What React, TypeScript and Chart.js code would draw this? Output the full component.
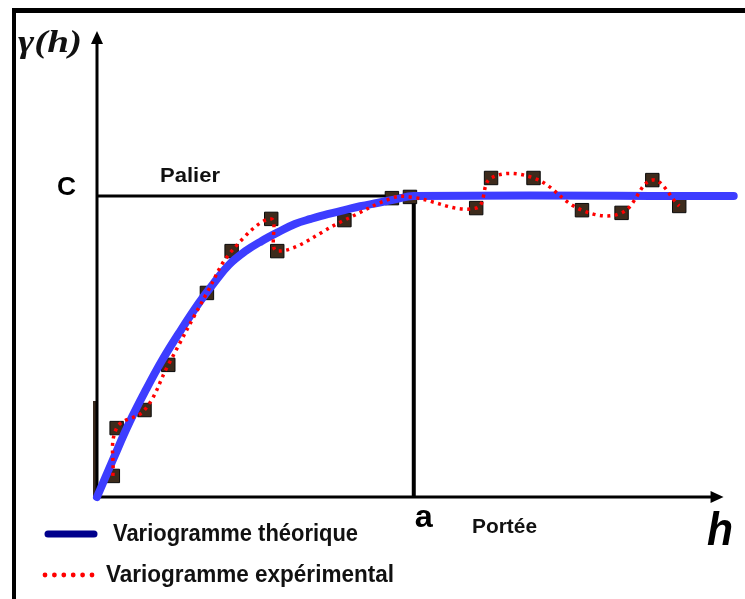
import React, { useEffect, useRef } from 'react';
import { Chart, registerables } from 'chart.js';
Chart.register(...registerables);

// Portée (a) and palier (C)
const rangeA = 10;
const sillC = 1;
const hAxisMax = 20.125;
const gammaAxisMax = 1.545;
const hArrowEnd = 19.78;

// Theoretical variogram
const theoH = [0, 0.5, 1.03, 1.56, 2.06, 2.59, 3.22, 3.69, 4.16, 4.69, 5.19, 5.72, 6.25, 6.75, 7.28, 7.81, 8.31, 8.84, 9.38, 10, 20.1];
const theoGamma = [0, 0.123, 0.249, 0.359, 0.455, 0.545, 0.645, 0.711, 0.771, 0.817, 0.85, 0.88, 0.907, 0.924, 0.94, 0.953, 0.966, 0.977, 0.988, 1, 1];

const expH = [0.5, 0.62, 1.5, 2.25, 3.47, 4.25, 5.5, 5.69, 7.81, 9.31, 9.88, 11.97, 12.44, 13.78, 15.31, 16.56, 17.53, 18.38];
const expGamma = [0.07, 0.229, 0.289, 0.439, 0.678, 0.817, 0.924, 0.817, 0.92, 0.993, 0.997, 0.96, 1.06, 1.06, 0.953, 0.944, 1.053, 0.967];

const labelGamma = 'γ(h)';
const labelC = 'C';
const labelPalier = 'Palier';
const labelA = 'a';
const labelPortee = 'Portée';
const labelH = 'h';
const legendTheo = 'Variogramme théorique';
const legendExp = 'Variogramme expérimental';

function fitText(ctx: CanvasRenderingContext2D, text: string, x: number, y: number, font: string, targetW: number, color = '#000') {
  ctx.save();
  ctx.font = font;
  ctx.fillStyle = color;
  ctx.textBaseline = 'alphabetic';
  ctx.textAlign = 'left';
  const w = ctx.measureText(text).width;
  const sx = w > 0 ? targetW / w : 1;
  ctx.translate(x, y);
  ctx.scale(sx, 1);
  ctx.fillText(text, 0, 0);
  ctx.restore();
}

const decorPlugin = {
  id: 'decor',
  beforeDatasetsDraw(chart: any) {
    const ctx: CanvasRenderingContext2D = chart.ctx;
    const xs = chart.scales.x;
    const ys = chart.scales.y;
    const x0 = xs.getPixelForValue(0);
    const y0 = ys.getPixelForValue(0);
    const yTop = chart.chartArea.top;
    const xEnd = xs.getPixelForValue(hArrowEnd);
    ctx.save();
    // frame
    ctx.fillStyle = '#000';
    ctx.fillRect(12, 8, 745 - 12, 5);
    ctx.fillRect(12, 8, 4, 599 - 8);
    // brown bar beside y axis
    ctx.fillStyle = '#3a2a1e';
    ctx.fillRect(x0 - 4, y0 - 96, 3, 96);
    // axes
    ctx.strokeStyle = '#000';
    ctx.lineWidth = 3;
    ctx.beginPath();
    ctx.moveTo(x0, y0 + 1);
    ctx.lineTo(x0, yTop + 10);
    ctx.moveTo(x0 - 1, y0);
    ctx.lineTo(xEnd - 10, y0);
    ctx.stroke();
    ctx.fillStyle = '#000';
    ctx.beginPath();
    ctx.moveTo(x0, yTop - 1);
    ctx.lineTo(x0 - 6, yTop + 12);
    ctx.lineTo(x0 + 6, yTop + 12);
    ctx.closePath();
    ctx.fill();
    ctx.beginPath();
    ctx.moveTo(xEnd, y0);
    ctx.lineTo(xEnd - 13, y0 - 6);
    ctx.lineTo(xEnd - 13, y0 + 6);
    ctx.closePath();
    ctx.fill();
    ctx.restore();
  },
  afterDraw(chart: any) {
    const ctx: CanvasRenderingContext2D = chart.ctx;
    const xs = chart.scales.x;
    const ys = chart.scales.y;
    const x0 = xs.getPixelForValue(0);
    const y0 = ys.getPixelForValue(0);
    const yC = ys.getPixelForValue(sillC);
    const xA = xs.getPixelForValue(rangeA);
    const sans = "'Liberation Sans', Arial, sans-serif";
    fitText(ctx, labelGamma, 18, 52, "bold italic 31px 'Liberation Serif', serif", 64, '#111');
    fitText(ctx, labelC, x0 - 40, yC - 1, `bold 25px ${sans}`, 19);
    fitText(ctx, labelPalier, 160, yC - 14, `bold 21px ${sans}`, 60, '#111');
    fitText(ctx, labelA, xA + 1, y0 + 30, `bold 32px ${sans}`, 18);
    fitText(ctx, labelPortee, 472, y0 + 36, `bold 21px ${sans}`, 65, '#111');
    fitText(ctx, labelH, 707, 545, `bold italic 46px ${sans}`, 26);
    // legend
    ctx.save();
    ctx.strokeStyle = '#00008c';
    ctx.lineWidth = 7;
    ctx.lineCap = 'round';
    ctx.beginPath();
    ctx.moveTo(48, 534);
    ctx.lineTo(94, 534);
    ctx.stroke();
    ctx.fillStyle = '#ff0000';
    for (let i = 0; i < 6; i++) {
      ctx.beginPath();
      ctx.arc(45 + i * 9.4, 575, 2.4, 0, Math.PI * 2);
      ctx.fill();
    }
    ctx.restore();
    fitText(ctx, legendTheo, 113, 541, `bold 23px ${sans}`, 245, '#111');
    fitText(ctx, legendExp, 106, 582, `bold 23px ${sans}`, 288, '#111');
  },
};

export default function App() {
  const ref = useRef<HTMLCanvasElement | null>(null);
  useEffect(() => {
    if (!ref.current) return;
    const theo = theoH.map((h, i) => ({ x: h, y: theoGamma[i] }));
    const exp = expH.map((h, i) => ({ x: h, y: expGamma[i] }));
    const chart = new Chart(ref.current, {
      type: 'line',
      data: {
        datasets: [
          {
            label: 'Palier',
            data: [{ x: 0, y: sillC }, { x: rangeA, y: sillC }],
            borderColor: '#000',
            borderWidth: 3,
            pointRadius: 0,
            order: 4,
            clip: false,
          },
          {
            label: 'Portée',
            data: [{ x: rangeA, y: 0 }, { x: rangeA, y: sillC }],
            borderColor: '#000',
            borderWidth: 4,
            pointRadius: 0,
            order: 4,
            clip: false,
          },
          {
            label: 'Points',
            data: exp,
            showLine: false,
            pointStyle: 'rect',
            pointRadius: 9.5,
            backgroundColor: '#3d2b1c',
            borderColor: '#0a0a0a',
            pointBorderWidth: 1,
            order: 3,
            clip: false,
          },
          {
            label: legendTheo,
            data: theo,
            borderColor: '#3d3dff',
            borderWidth: 8,
            borderCapStyle: 'round',
            borderJoinStyle: 'round',
            tension: 0.4,
            pointRadius: 0,
            order: 2,
            clip: false,
          },
          {
            label: legendExp,
            data: exp,
            borderColor: '#ff0000',
            borderWidth: 3.5,
            borderDash: [3, 4.5],
            tension: 0.4,
            pointRadius: 0,
            order: 1,
            clip: false,
          },
        ],
      },
      options: {
        animation: false,
        responsive: false,
        events: [],
        layout: { padding: { left: 97, right: 4, top: 32, bottom: 102 } },
        scales: {
          x: { type: 'linear', min: 0, max: hAxisMax, display: false },
          y: { type: 'linear', min: 0, max: gammaAxisMax, display: false },
        },
        plugins: { legend: { display: false }, tooltip: { enabled: false } },
      },
      plugins: [decorPlugin],
    });
    return () => chart.destroy();
  }, []);
  return (
    <div style={{ position: 'absolute', left: 0, top: 0, width: 745, height: 599, background: '#fff' }}>
      <canvas ref={ref} width={745} height={599} />
    </div>
  );
}
